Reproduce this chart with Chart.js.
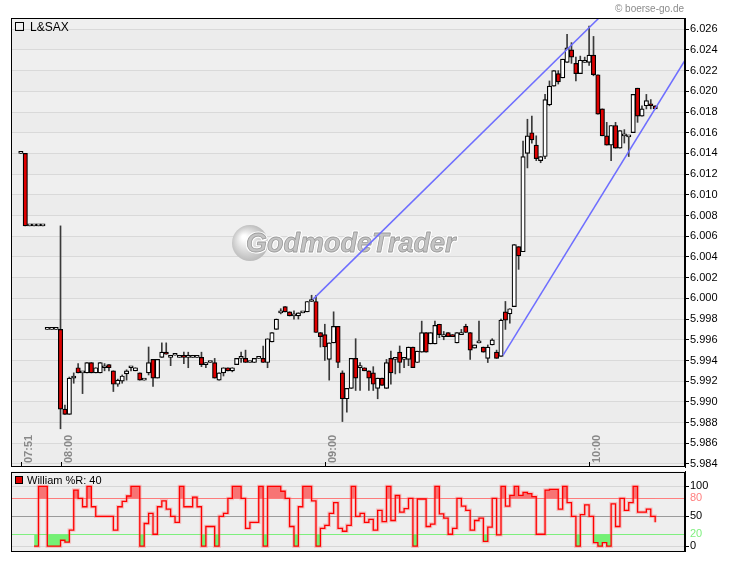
<!DOCTYPE html>
<html>
<head>
<meta charset="utf-8">
<script src="https://cdn.jsdelivr.net/npm/chart.js@4.4.1/dist/chart.umd.min.js"></script>
<style>
  html, body { margin: 0; padding: 0; background: #fff; }
  #wrap { position: relative; width: 730px; height: 561px; }
  #main { position: absolute; left: 0; top: 0; }
  #wr { position: absolute; left: 0; top: 470px; }
</style>
</head>
<body>
<div id="wrap">
  <canvas id="main" width="730" height="470"></canvas>
  <canvas id="wr" width="730" height="91"></canvas>
</div>
<script>
// x values are minutes relative to 08:00, the first candle is 07:51
var firstMinute = -9;

var opens = [
  6.0140, 6.0140, 6.0070, 6.0070, 6.0070, 6.0070, 5.9970, 5.9970, 5.9970,
  5.9970, 5.9893, 5.9888, 5.9923, 5.9933, 5.9928, 5.9928, 5.9938, 5.9928, 5.9928,
  5.9933, 5.9936, 5.9930, 5.9917, 5.9920, 5.9927, 5.9933, 5.9930, 5.9928, 5.9921,
  5.9928, 5.9941, 5.9923, 5.9943, 5.9948, 5.9943, 5.9945, 5.9943, 5.9945, 5.9943,
  5.9943, 5.9943, 5.9943, 5.9936, 5.9938, 5.9938, 5.9921, 5.9928, 5.9933, 5.9930,
  5.9936, 5.9942, 5.9942, 5.9938, 5.9938, 5.9942, 5.9942, 5.9938, 5.9958, 5.9970,
  5.9986, 5.9992, 5.9987, 5.9983, 5.9983, 5.9986, 5.9987, 5.9997, 5.9997, 5.9967,
  5.9965, 5.9941, 5.9957, 5.9973, 5.9928, 5.9903, 5.9913, 5.9942, 5.9933, 5.9933,
  5.9930, 5.9928, 5.9913, 5.9923, 5.9913, 5.9942, 5.9941, 5.9948, 5.9941, 5.9941,
  5.9953, 5.9938, 5.9948, 5.9967, 5.9956, 5.9956, 5.9975, 5.9963, 5.9967, 5.9965,
  5.9957, 5.9965, 5.9973, 5.9967, 5.9952, 5.9957, 5.9953, 5.9942, 5.9955, 5.9948,
  5.9944, 5.9987, 5.9985, 5.9992, 6.0050, 6.0045, 6.0140, 6.0160, 6.0148, 6.0133,
  6.0137, 6.0187, 6.0205, 6.0217, 6.0213, 6.0228, 6.0240, 6.0227, 6.0217, 6.0228,
  6.0228, 6.0235, 6.0216, 6.0183, 6.0157, 6.0148, 6.0167, 6.0145, 6.0157, 6.0156,
  6.0160, 6.0203, 6.0176, 6.0186, 6.0188, 6.0186
];
var highs = [
  6.0140, 6.0140, 6.0070, 6.0070, 6.0070, 6.0070, 5.9970, 5.9970, 5.9970,
  6.0070, 5.9897, 5.9924, 5.9928, 5.9937, 5.9928, 5.9938, 5.9938, 5.9933, 5.9938,
  5.9937, 5.9936, 5.9930, 5.9922, 5.9926, 5.9931, 5.9933, 5.9933, 5.9928, 5.9921,
  5.9953, 5.9941, 5.9941, 5.9957, 5.9957, 5.9945, 5.9945, 5.9945, 5.9948, 5.9948,
  5.9945, 5.9943, 5.9948, 5.9938, 5.9938, 5.9942, 5.9928, 5.9933, 5.9933, 5.9933,
  5.9942, 5.9948, 5.9950, 5.9938, 5.9942, 5.9942, 5.9954, 5.9961, 5.9967, 5.9980,
  5.9990, 5.9992, 5.9987, 5.9988, 5.9986, 5.9987, 5.9997, 6.0003, 6.0003, 5.9967,
  5.9975, 5.9957, 5.9987, 5.9973, 5.9930, 5.9913, 5.9942, 5.9961, 5.9938, 5.9933,
  5.9930, 5.9934, 5.9923, 5.9923, 5.9941, 5.9949, 5.9942, 5.9954, 5.9942, 5.9953,
  5.9953, 5.9949, 5.9978, 5.9967, 5.9967, 5.9978, 5.9975, 5.9968, 5.9967, 5.9965,
  5.9967, 5.9970, 5.9975, 5.9967, 5.9955, 5.9978, 5.9953, 5.9955, 5.9961, 5.9950,
  5.9980, 5.9997, 5.9990, 6.0052, 6.0050, 6.0152, 6.0173, 6.0176, 6.0157, 6.0137,
  6.0197, 6.0210, 6.0220, 6.0220, 6.0231, 6.0255, 6.0247, 6.0233, 6.0234, 6.0233,
  6.0263, 6.0253, 6.0216, 6.0183, 6.0170, 6.0167, 6.0170, 6.0162, 6.0163, 6.0156,
  6.0197, 6.0203, 6.0186, 6.0197, 6.0192, 6.0186
];
var lows = [
  6.0140, 6.0070, 6.0070, 6.0070, 6.0070, 6.0070, 5.9970, 5.9970, 5.9970,
  5.9874, 5.9888, 5.9888, 5.9918, 5.9928, 5.9908, 5.9928, 5.9928, 5.9928, 5.9928,
  5.9930, 5.9930, 5.9910, 5.9915, 5.9918, 5.9921, 5.9930, 5.9930, 5.9921, 5.9921,
  5.9926, 5.9915, 5.9923, 5.9943, 5.9946, 5.9935, 5.9945, 5.9943, 5.9937, 5.9933,
  5.9943, 5.9943, 5.9934, 5.9933, 5.9938, 5.9923, 5.9921, 5.9925, 5.9930, 5.9929,
  5.9936, 5.9938, 5.9938, 5.9938, 5.9938, 5.9942, 5.9938, 5.9933, 5.9958, 5.9970,
  5.9985, 5.9987, 5.9983, 5.9980, 5.9980, 5.9986, 5.9987, 5.9997, 5.9967, 5.9953,
  5.9940, 5.9921, 5.9957, 5.9933, 5.9881, 5.9890, 5.9913, 5.9911, 5.9911, 5.9930,
  5.9911, 5.9911, 5.9903, 5.9916, 5.9913, 5.9917, 5.9927, 5.9928, 5.9933, 5.9935,
  5.9933, 5.9938, 5.9948, 5.9948, 5.9956, 5.9956, 5.9962, 5.9960, 5.9963, 5.9963,
  5.9957, 5.9965, 5.9967, 5.9941, 5.9952, 5.9957, 5.9948, 5.9938, 5.9955, 5.9942,
  5.9944, 5.9970, 5.9976, 5.9992, 6.0028, 6.0045, 6.0126, 6.0150, 6.0133, 6.0131,
  6.0135, 6.0186, 6.0205, 6.0207, 6.0213, 6.0228, 6.0227, 6.0210, 6.0217, 6.0228,
  6.0225, 6.0215, 6.0178, 6.0157, 6.0148, 6.0133, 6.0145, 6.0145, 6.0150, 6.0137,
  6.0160, 6.0170, 6.0176, 6.0183, 6.0183, 6.0183
];
var closes = [
  6.0140, 6.0070, 6.0070, 6.0070, 6.0070, 6.0070, 5.9970, 5.9970, 5.9970,
  5.9893, 5.9888, 5.9923, 5.9925, 5.9928, 5.9928, 5.9938, 5.9928, 5.9933, 5.9938,
  5.9933, 5.9933, 5.9917, 5.9921, 5.9925, 5.9930, 5.9933, 5.9933, 5.9921, 5.9921,
  5.9938, 5.9923, 5.9941, 5.9948, 5.9946, 5.9945, 5.9945, 5.9945, 5.9943, 5.9943,
  5.9945, 5.9943, 5.9936, 5.9938, 5.9938, 5.9923, 5.9928, 5.9933, 5.9930, 5.9933,
  5.9942, 5.9942, 5.9938, 5.9938, 5.9942, 5.9942, 5.9938, 5.9961, 5.9967, 5.9980,
  5.9987, 5.9987, 5.9983, 5.9983, 5.9986, 5.9987, 5.9997, 5.9997, 5.9967, 5.9963,
  5.9953, 5.9957, 5.9973, 5.9938, 5.9903, 5.9913, 5.9942, 5.9923, 5.9935, 5.9930,
  5.9923, 5.9917, 5.9923, 5.9916, 5.9938, 5.9928, 5.9942, 5.9938, 5.9941, 5.9953,
  5.9933, 5.9949, 5.9967, 5.9948, 5.9967, 5.9974, 5.9965, 5.9965, 5.9963, 5.9963,
  5.9967, 5.9967, 5.9967, 5.9950, 5.9955, 5.9957, 5.9948, 5.9953, 5.9960, 5.9942,
  5.9979, 5.9979, 5.9990, 6.0052, 6.0041, 6.0137, 6.0157, 6.0153, 6.0135, 6.0137,
  6.0192, 6.0205, 6.0220, 6.0209, 6.0231, 6.0242, 6.0233, 6.0217, 6.0230, 6.0228,
  6.0235, 6.0216, 6.0178, 6.0157, 6.0148, 6.0167, 6.0145, 6.0162, 6.0157, 6.0156,
  6.0197, 6.0176, 6.0183, 6.0191, 6.0186, 6.0183
];

// trend lines: [minute, price] end points
var upperTrend = [[57.3, 5.9999], [123, 6.0274]];
var lowerTrend = [[100.45, 5.9945], [142.5, 6.0235]];

var priceTicks = [5.984, 5.986, 5.988, 5.990, 5.992, 5.994, 5.996, 5.998, 6.000, 6.002, 6.004,
  6.006, 6.008, 6.010, 6.012, 6.014, 6.016, 6.018, 6.020, 6.022, 6.024, 6.026];
var timeTicks = [-9, 0, 60, 120];
var timeLabels = ['07:51', '08:00', '09:00', '10:00'];

// William %R (40), first value at 07:54
var wrFirstMinute = -6;
var wrValues = [
  0, 100, 100, 0, 0, 0,
  10, 7, 27, 94, 80, 66, 100, 66, 50, 50, 50, 50, 27, 66, 75, 84, 100, 100, 0, 38,
  55, 20, 66, 76, 62, 50, 40, 100, 66, 66, 82, 66, 0, 33, 33, 0, 50, 55, 80, 100,
  100, 80, 30, 40, 40, 100, 0, 100, 100, 100, 92, 80, 33, 0, 66, 100, 100, 76, 0, 30,
  35, 55, 73, 30, 25, 35, 100, 50, 55, 40, 45, 27, 60, 41, 100, 43, 85, 57, 63, 80,
  0, 79, 79, 33, 37, 100, 54, 47, 20, 30, 80, 67, 60, 27, 43, 47, 8, 32, 80, 19,
  100, 67, 85, 100, 85, 90, 88, 83, 20, 20, 94, 95, 95, 62, 100, 73, 50, 0, 53, 69,
  50, 6, 0, 6, 0, 71, 33, 80, 60, 73, 100, 57, 57, 62, 50, 40
];
var wrTicks = [0, 20, 50, 80, 100];

var xMin = -11.24, xMax = 141.77;
var uiFont = 'Liberation Sans';

var bodies = [], wicks = [], bodyColors = [];
for (var i = 0; i < opens.length; i++) {
  var m = firstMinute + i;
  bodies.push({ x: m, y: [Math.min(opens[i], closes[i]), Math.max(opens[i], closes[i])] });
  wicks.push({ x: m, y: [lows[i], highs[i]] });
  bodyColors.push(closes[i] < opens[i] ? '#e00000' : '#ffffff');
}
var wrPoints = wrValues.map(function (v, i) { return { x: wrFirstMinute + i, y: v }; });
function pts(arr) { return arr.map(function (p) { return { x: p[0], y: p[1] }; }); }

function frame(chart) {
  var a = chart.chartArea, ctx = chart.ctx;
  ctx.save();
  ctx.strokeStyle = '#000';
  ctx.lineWidth = 1;
  ctx.strokeRect(Math.round(a.left) + 0.5, Math.round(a.top) + 0.5,
    Math.round(a.right - a.left) - 1, Math.round(a.bottom - a.top) - 1);
  ctx.restore();
}

function fixRightAxis(s) {
  s.width = 45;
  s.paddingTop = 0;
  s.paddingBottom = 0;
}

var mainDeco = {
  id: 'mainDeco',
  beforeDraw: function (chart) {
    var a = chart.chartArea, ctx = chart.ctx, ys = chart.scales.y;
    ctx.save();
    ctx.fillStyle = '#efefef';
    ctx.fillRect(a.left, a.top, a.right - a.left, a.bottom - a.top);
    for (var k = 0; k < priceTicks.length - 1; k += 2) {
      var y1 = ys.getPixelForValue(priceTicks[k + 1]);
      var y0 = ys.getPixelForValue(priceTicks[k]);
      ctx.fillStyle = '#ececec';
      ctx.fillRect(a.left, y1, a.right - a.left, y0 - y1);
    }
    ctx.restore();
  },
  beforeDatasetsDraw: function (chart) {
    // watermark
    var ctx = chart.ctx;
    ctx.save();
    var g = ctx.createRadialGradient(244, 237, 2, 249, 243, 19);
    g.addColorStop(0, '#ffffff');
    g.addColorStop(1, '#b9b9b9');
    ctx.fillStyle = g;
    ctx.beginPath();
    ctx.arc(250, 243, 18, 0, Math.PI * 2);
    ctx.fill();
    ctx.font = 'italic bold 27px ' + uiFont;
    ctx.textBaseline = 'middle';
    ctx.lineJoin = 'round';
    ctx.lineWidth = 3;
    ctx.strokeStyle = '#ffffff';
    ctx.strokeText('GodmodeTrader', 246, 245);
    ctx.fillStyle = '#c4c4c4';
    ctx.fillText('GodmodeTrader', 246, 245);
    ctx.lineWidth = 0.8;
    ctx.strokeStyle = '#9a9a9a';
    ctx.strokeText('GodmodeTrader', 246, 245);
    ctx.restore();
  },
  afterDraw: function (chart) {
    var a = chart.chartArea, ctx = chart.ctx, xs = chart.scales.x;
    frame(chart);
    ctx.save();
    // legend box
    ctx.strokeStyle = '#000';
    ctx.lineWidth = 1;
    ctx.strokeRect(15.5, 22.5, 8, 8);
    ctx.fillStyle = '#000';
    ctx.font = '12px ' + uiFont;
    ctx.textBaseline = 'alphabetic';
    ctx.fillText('L&SAX', 30, 31);
    // copyright
    ctx.fillStyle = '#8c8c8c';
    ctx.font = '10px ' + uiFont;
    ctx.textAlign = 'right';
    ctx.fillText('\u00a9 boerse-go.de', 684, 12);
    // time ticks and labels inside the panel
    ctx.textAlign = 'left';
    ctx.textBaseline = 'top';
    ctx.font = 'bold 11px ' + uiFont;
    for (var k = 0; k < timeTicks.length; k++) {
      var px = Math.round(xs.getPixelForValue(timeTicks[k])) + 0.5;
      ctx.strokeStyle = '#000';
      ctx.beginPath();
      ctx.moveTo(px, a.bottom);
      ctx.lineTo(px, a.bottom - 5);
      ctx.stroke();
      ctx.save();
      ctx.translate(px + 2, a.bottom - 4);
      ctx.rotate(-Math.PI / 2);
      ctx.fillStyle = '#888888';
      ctx.fillText(timeLabels[k], 0, 0);
      ctx.restore();
    }
    ctx.restore();
  }
};

new Chart(document.getElementById('main'), {
  type: 'bar',
  data: {
    datasets: [
      { type: 'line', data: pts(upperTrend), borderColor: '#6e6eff', borderWidth: 1.5, pointRadius: 0, order: 0 },
      { type: 'line', data: pts(lowerTrend), borderColor: '#6e6eff', borderWidth: 1.5, pointRadius: 0, order: 0 },
      { data: bodies, backgroundColor: bodyColors, borderColor: '#000', borderWidth: 1.2, borderSkipped: false,
        barThickness: 4.4, minBarLength: 2, grouped: false, order: 1 },
      { data: wicks, backgroundColor: '#3a3a3a', borderWidth: 0, barThickness: 1, grouped: false, order: 2 }
    ]
  },
  options: {
    responsive: false,
    animation: false,
    devicePixelRatio: 1,
    layout: { padding: { left: 11, top: 18, right: 0, bottom: 3 } },
    plugins: { legend: { display: false }, tooltip: { enabled: false } },
    scales: {
      x: { type: 'linear', min: xMin, max: xMax, offset: false, display: false },
      y: {
        position: 'right', min: 5.98371, max: 6.02708,
        afterBuildTicks: function (s) { s.ticks = priceTicks.map(function (v) { return { value: v }; }); },
        afterFit: fixRightAxis,
        grid: { color: '#d9d9d9', tickColor: '#000', tickLength: 4 },
        border: { display: true, color: '#000' },
        ticks: { padding: 1, color: '#000', autoSkip: false, font: { family: uiFont, size: 11 },
          callback: function (v) { return Number(v).toFixed(3); } }
      }
    }
  },
  plugins: [mainDeco]
});

var wrDeco = {
  id: 'wrDeco',
  beforeDraw: function (chart) {
    var a = chart.chartArea, ctx = chart.ctx;
    ctx.save();
    ctx.fillStyle = '#eeeeee';
    ctx.fillRect(a.left, a.top, a.right - a.left, a.bottom - a.top);
    ctx.restore();
  },
  afterDraw: function (chart) {
    var ctx = chart.ctx;
    frame(chart);
    ctx.save();
    ctx.fillStyle = '#e00000';
    ctx.fillRect(15, 6, 7, 7);
    ctx.strokeStyle = '#000';
    ctx.lineWidth = 1;
    ctx.strokeRect(15.5, 6.5, 7, 7);
    ctx.fillStyle = '#000';
    ctx.font = '11px ' + uiFont;
    ctx.fillText('William %R: 40', 27, 14);
    ctx.restore();
  }
};

function wrColor(v, def) {
  if (v === 80) return '#ff7f7f';
  if (v === 20) return '#7fef7f';
  return def;
}

new Chart(document.getElementById('wr'), {
  type: 'line',
  data: {
    datasets: [
      { data: wrPoints, stepped: 'before', borderColor: '#ff0000', borderWidth: 1.3, pointRadius: 0, order: 0,
        fill: { target: { value: 80 }, above: '#f77474', below: 'rgba(0,0,0,0)' } },
      { data: wrPoints, stepped: 'before', borderColor: 'rgba(0,0,0,0)', borderWidth: 0, pointRadius: 0, order: 1,
        fill: { target: { value: 20 }, above: 'rgba(0,0,0,0)', below: '#74f074' } },
      { data: wrPoints, stepped: 'before', borderColor: 'rgba(255,90,90,0.3)', borderWidth: 3.5, pointRadius: 0, fill: false, order: 2 }
    ]
  },
  options: {
    responsive: false,
    animation: false,
    devicePixelRatio: 1,
    layout: { padding: { left: 11, top: 1.5, right: 0, bottom: 10 } },
    plugins: { legend: { display: false }, tooltip: { enabled: false } },
    scales: {
      x: { type: 'linear', min: xMin, max: xMax, offset: false, display: false },
      y: {
        position: 'right', min: -8, max: 125,
        afterBuildTicks: function (s) { s.ticks = wrTicks.map(function (v) { return { value: v }; }); },
        afterFit: fixRightAxis,
        grid: {
          color: function (c) {
            var v = c.tick && c.tick.value;
            if (v === 50) return '#9a9a9a';
            return wrColor(v, '#d6d6d6');
          },
          tickColor: function (c) {
            var v = c.tick && c.tick.value;
            return (v === 80 || v === 20) ? 'rgba(0,0,0,0)' : '#000';
          },
          tickLength: 4
        },
        border: { display: true, color: '#000' },
        ticks: { padding: 1, autoSkip: false, font: { family: uiFont, size: 11 },
          color: function (c) { return wrColor(c.tick && c.tick.value, '#000'); } }
      }
    }
  },
  plugins: [wrDeco]
});
</script>
</body>
</html>
